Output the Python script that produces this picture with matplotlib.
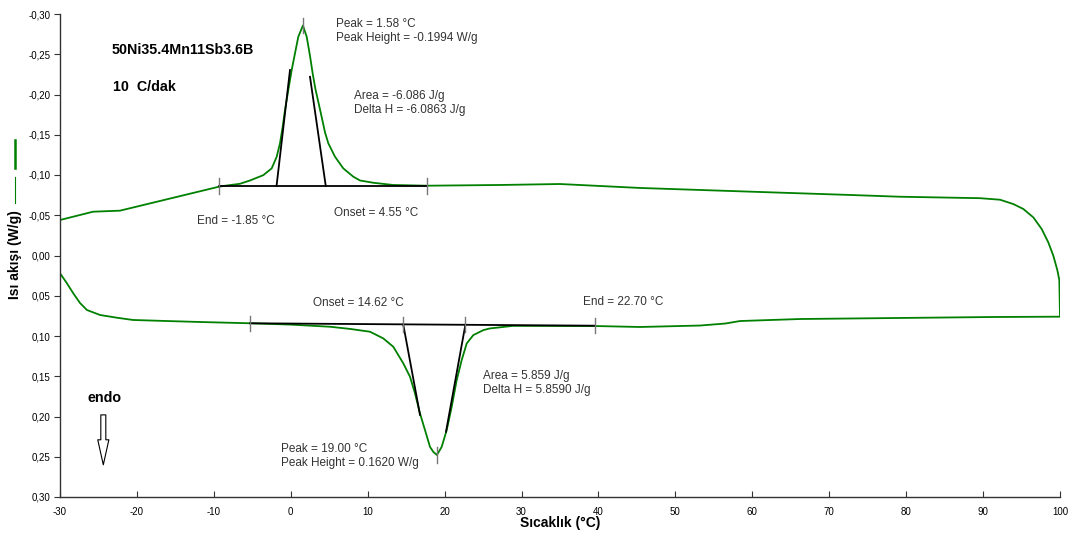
import matplotlib
matplotlib.use('Agg')
import matplotlib.pyplot as plt
from matplotlib.lines import Line2D
from matplotlib.ticker import FuncFormatter, MultipleLocator

plt.rcParams['font.family'] = ['Liberation Sans', 'DejaVu Sans']

# --- sample info
sample_name = "50Ni35.4Mn11Sb3.6B"
rate_text = "10  C/dak"

# --- heating run (-30 -> 100 °C), endothermic peak
heat_peak_T = 19.00
heat_peak_h = 0.1620
heat_onset = 14.62
heat_end = 22.70
heat_area = 5.859
heat_dH = 5.8590
heat_base_T = [-5.3, 39.55]
heat_base_q = [0.0842, 0.0872]
heat_tan_top_T = [16.8, 20.18]
heat_tan_top_q = [0.198, 0.219]

heat_T_pre = [-30.0, -29.1, -28.3, -27.4, -26.5, -24.8, -22.6, -20.5, -16.1, -11.8,
              -5.3, -0.1, 5.1, 7.7, 10.3, 12.03, 13.33, 14.63, 15.5, 16.15, 16.8,
              17.45, 18.1, 18.53]
heat_q_pre = [0.022, 0.0345, 0.0466, 0.059, 0.0677, 0.0739, 0.0773, 0.0801, 0.0814, 0.0826,
              0.0842, 0.0858, 0.0885, 0.0912, 0.0947, 0.103, 0.1134, 0.134, 0.1506, 0.1713,
              0.1962, 0.2169, 0.2377, 0.2439]
heat_T_post = [19.62, 20.27, 20.92, 21.57, 22.22, 22.87, 23.73, 25.03, 25.9, 28.9, 39.6,
               45.4, 53.2, 56.5, 58.4, 66.2, 79.2, 91.3, 100.0]
heat_q_post = [0.2377, 0.2169, 0.188, 0.1548, 0.1299, 0.1093, 0.0989, 0.0927, 0.0906, 0.0874,
               0.0876, 0.0888, 0.087, 0.0845, 0.0814, 0.0789, 0.0776, 0.0764, 0.076]

# --- cooling run (100 -> -30 °C), exothermic peak
cool_peak_T = 1.58
cool_peak_h = -0.1994
cool_onset = 4.55
cool_end = -1.85
cool_area = -6.086
cool_dH = -6.0863
cool_base_T = [-9.3, 17.7]
cool_base_q = [-0.0863, -0.0863]
cool_tan_top_T = [-0.1, 2.5]
cool_tan_top_q = [-0.2304, -0.222]

cool_T_pre = [100.0, 99.91, 99.65, 99.13, 98.48, 97.62, 96.53, 95.23, 93.93, 92.2, 89.6,
              79.2, 72.7, 61.0, 53.2, 45.4, 35.0, 27.2, 17.7, 13.3, 10.7, 9.0, 8.13,
              6.83, 5.75, 4.88, 4.45, 4.02, 3.6, 3.2, 2.85, 2.5, 2.07]
cool_q_pre = [0.076, 0.0304, 0.018, 0.0002, -0.0163, -0.0329, -0.0474, -0.0578, -0.0639,
              -0.0693, -0.0712, -0.073, -0.0752, -0.0789, -0.0814, -0.0839, -0.0888, -0.0876,
              -0.0867, -0.0876, -0.0904, -0.0932, -0.0979, -0.1082, -0.1227, -0.1394,
              -0.1530, -0.1720, -0.1900, -0.2070, -0.2260, -0.2480, -0.2718]
cool_T_post = [0.98, 0.55, 0.12, -0.32, -0.75, -1.05, -1.4, -1.83, -2.48, -3.57, -5.3,
               -6.6, -8.8, -9.5, -22.2, -25.7, -30.0]
cool_q_post = [-0.2718, -0.2512, -0.2304, -0.2056, -0.1807, -0.16, -0.1394, -0.1227,
               -0.1082, -0.0998, -0.0932, -0.0891, -0.0863, -0.0851, -0.0557, -0.0544,
               -0.0441]


def base_at(T, base_T, base_q):
    # linear baseline value at temperature T
    return base_q[0] + (T - base_T[0]) * (base_q[1] - base_q[0]) / (base_T[1] - base_T[0])


heat_peak_q = base_at(heat_peak_T, heat_base_T, heat_base_q) + heat_peak_h
cool_peak_q = base_at(cool_peak_T, cool_base_T, cool_base_q) + cool_peak_h

heat_T = heat_T_pre + [heat_peak_T] + heat_T_post
heat_q = heat_q_pre + [heat_peak_q] + heat_q_post
cool_T = cool_T_pre + [cool_peak_T] + cool_T_post
cool_q = cool_q_pre + [cool_peak_q] + cool_q_post

fig = plt.figure(figsize=(10.76, 5.37), dpi=100)
ax = fig.add_axes([60 / 1076, 1 - 497 / 537, 1000 / 1076, 483 / 537])

green = '#008000'
ax.plot(heat_T + cool_T, heat_q + cool_q, color=green, lw=1.3, solid_joinstyle='round')

# baselines and tangents
for base_T, base_q in [(heat_base_T, heat_base_q), (cool_base_T, cool_base_q)]:
    ax.plot(base_T, base_q, color='black', lw=1.3)

for base_T, base_q, pts, tops_T, tops_q in [
        (heat_base_T, heat_base_q, [heat_onset, heat_end], heat_tan_top_T, heat_tan_top_q),
        (cool_base_T, cool_base_q, [cool_end, cool_onset], cool_tan_top_T, cool_tan_top_q)]:
    for T0, T1, q1 in zip(pts, tops_T, tops_q):
        ax.plot([T0, T1], [base_at(T0, base_T, base_q), q1], color='black', lw=1.3)

# small marker ticks on the baselines and at the peaks
dq = 0.0095
tick_kw = dict(color='#777777', lw=1)
for T in heat_base_T + [heat_onset, heat_end]:
    q = base_at(T, heat_base_T, heat_base_q)
    ax.plot([T, T], [q - dq, q + dq], **tick_kw)
for T in cool_base_T:
    q = base_at(T, cool_base_T, cool_base_q)
    ax.plot([T, T], [q - dq, q + dq], **tick_kw)
ax.plot([heat_peak_T, heat_peak_T], [heat_peak_q - dq, heat_peak_q + dq], **tick_kw)
ax.plot([cool_peak_T, cool_peak_T], [cool_peak_q - dq, cool_peak_q + dq], **tick_kw)

# annotations
txt_kw = dict(fontsize=8.5, color='#333333', ha='left', va='center', linespacing=1.2)
ax.text(5.88, -0.2789, f"Peak = {cool_peak_T:.2f} °C\nPeak Height = {cool_peak_h:.4f} W/g", **txt_kw)
ax.text(8.22, -0.189, f"Area = {cool_area:.3f} J/g\nDelta H = {cool_dH:.4f} J/g", **txt_kw)
ax.text(-12.23, -0.0432, f"End = {cool_end:.2f} °C", **txt_kw)
ax.text(5.62, -0.0528, f"Onset = {cool_onset:.2f} °C", **txt_kw)
ax.text(2.85, 0.0586, f"Onset = {heat_onset:.2f} °C", **txt_kw)
ax.text(37.99, 0.0578, f"End = {heat_end:.2f} °C", **txt_kw)
ax.text(24.99, 0.1584, f"Area = {heat_area:.3f} J/g\nDelta H = {heat_dH:.4f} J/g", **txt_kw)
ax.text(-1.31, 0.249, f"Peak = {heat_peak_T:.2f} °C\nPeak Height = {heat_peak_h:.4f} W/g", **txt_kw)

bold_kw = dict(fontsize=10.3, fontweight='bold', color='black', ha='left', va='center')
ax.text(-23.28, -0.2553, sample_name, **bold_kw)
ax.text(-23.11, -0.2093, rate_text, **bold_kw)
ax.text(-26.49, 0.177, "endo", **bold_kw)

# hollow "endo" arrow pointing down
ax.annotate('', xy=(-24.37, 0.260), xytext=(-24.37, 0.198),
            arrowprops=dict(arrowstyle='simple,head_length=1.8,head_width=0.8,tail_width=0.36',
                            fc='white', ec='black', lw=0.8, mutation_scale=10,
                            shrinkA=0, shrinkB=0))

# axes styling
ax.set_xlim(-30, 100)
ax.set_ylim(0.30, -0.30)
ax.xaxis.set_major_locator(MultipleLocator(10))
ax.yaxis.set_major_locator(MultipleLocator(0.05))


def comma_fmt(v, pos):
    s = f"{v:.2f}".replace('.', ',')
    return '0,00' if s == '-0,00' else s


ax.yaxis.set_major_formatter(FuncFormatter(comma_fmt))
ax.xaxis.set_major_formatter(FuncFormatter(lambda v, pos: f"{v:.0f}"))

for side in ['top', 'right']:
    ax.spines[side].set_visible(False)
for side in ['left', 'bottom']:
    ax.spines[side].set_color('#333333')
    ax.spines[side].set_linewidth(1)

ax.tick_params(axis='x', direction='in', length=4, labelsize=7, pad=7, color='#333333')
ax.tick_params(axis='y', direction='out', length=4, labelsize=7, pad=3, color='#333333')

fig.text(560 / 1076, 1 - 523 / 537, "Sıcaklık (°C)", fontsize=10, fontweight='bold',
         ha='center', va='center')
fig.text(15 / 1076, 1 - 255 / 537, "Isı akışı (W/g)", fontsize=10, fontweight='bold',
         ha='center', va='center', rotation=90)

# line key next to the y label
fig.add_artist(Line2D([15 / 1076, 15 / 1076], [1 - 140 / 537, 1 - 168 / 537],
                      color=green, lw=1.8, transform=fig.transFigure))
fig.add_artist(Line2D([15 / 1076, 15 / 1076], [1 - 177 / 537, 1 - 203 / 537],
                      color=green, lw=0.8, transform=fig.transFigure))

fig.savefig('out.png', dpi=100)
